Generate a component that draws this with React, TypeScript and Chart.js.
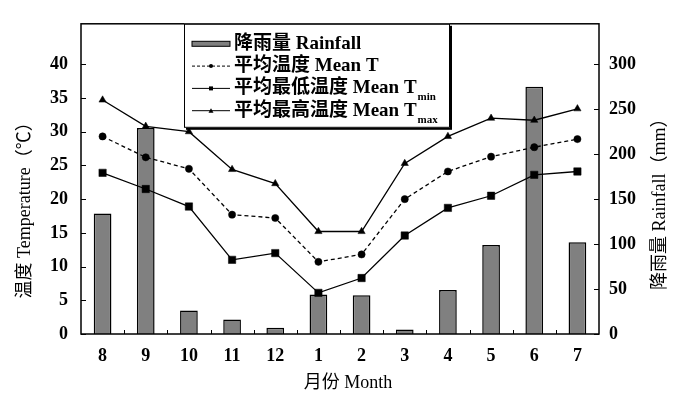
import { useEffect, useRef } from "react";
import { Chart, registerables } from "chart.js";

Chart.register(...registerables);

const months = ["8", "9", "10", "11", "12", "1", "2", "3", "4", "5", "6", "7"];
const rainfall = [134, 229, 26, 16, 7, 44, 43, 5, 49, 99, 275, 102];
const meanT = [29.3, 26.2, 24.5, 17.7, 17.2, 10.7, 11.8, 20.0, 24.1, 26.3, 27.7, 28.9];
const minT = [23.9, 21.5, 18.9, 11.0, 12.0, 6.1, 8.3, 14.6, 18.7, 20.5, 23.6, 24.1];
const maxT = [34.7, 30.8, 30.0, 24.4, 22.3, 15.2, 15.2, 25.3, 29.3, 32.0, 31.7, 33.4];
const tempTicks = [0, 5, 10, 15, 20, 25, 30, 35, 40];
const rainTicks = [0, 50, 100, 150, 200, 250, 300];

const legendLabels = ["降雨量 Rainfall", "平均温度 Mean T", "平均最低温度 Mean T", "平均最高温度 Mean T"];
const legendSubs = ["", "", "min", "max"];
const leftTitle = "温度 Temperature（℃）";
const rightTitle = "降雨量 Rainfall（mm）";
const bottomTitle = "月份 Month";

const SERIF = '"Liberation Serif", "Noto Sans CJK SC", serif';
const BAR_FILL = "#808080";

const decorPlugin = {
  id: "decor",
  afterDraw(chart: any) {
    const ctx: CanvasRenderingContext2D = chart.ctx;
    const { left, right, top, bottom } = chart.chartArea;
    const xs = chart.scales.x;
    const yl = chart.scales.y;
    const yr = chart.scales.y1;
    ctx.save();
    // frame
    ctx.strokeStyle = "#000";
    ctx.lineWidth = 1.5;
    ctx.strokeRect(left, top, right - left, bottom - top);
    // inward ticks
    ctx.lineWidth = 1;
    ctx.beginPath();
    yl.ticks.forEach((t: any) => {
      const py = Math.round(yl.getPixelForValue(t.value)) + 0.5;
      ctx.moveTo(left, py);
      ctx.lineTo(left + 5, py);
    });
    yr.ticks.forEach((t: any) => {
      const py = Math.round(yr.getPixelForValue(t.value)) + 0.5;
      ctx.moveTo(right, py);
      ctx.lineTo(right - 5, py);
    });
    for (let i = 1; i < months.length; i++) {
      const px = Math.round((xs.getPixelForValue(i - 1) + xs.getPixelForValue(i)) / 2) + 0.5;
      ctx.moveTo(px, bottom);
      ctx.lineTo(px, bottom - 4);
    }
    ctx.stroke();

    // axis titles
    ctx.fillStyle = "#000";
    ctx.font = `18px ${SERIF}`;
    ctx.textAlign = "center";
    ctx.textBaseline = "middle";
    ctx.save();
    ctx.translate(25, top + 182);
    ctx.rotate(-Math.PI / 2);
    ctx.fillText(leftTitle, 0, 0);
    ctx.restore();
    ctx.save();
    ctx.translate(right + 61, top + 176);
    ctx.rotate(-Math.PI / 2);
    ctx.fillText(rightTitle, 0, 0);
    ctx.restore();
    ctx.fillText(bottomTitle, (left + right) / 2 + 8, bottom + 49);

    // legend box
    const bx = left + 103;
    const by = top;
    const bw = 266;
    const bh = 104;
    ctx.fillStyle = "#000";
    ctx.fillRect(bx + 2, by + 2, bw, bh);
    ctx.fillStyle = "#fff";
    ctx.fillRect(bx, by, bw, bh);
    ctx.lineWidth = 1;
    ctx.strokeStyle = "#000";
    ctx.strokeRect(bx + 0.5, by + 0.5, bw - 1, bh - 1);

    const sx0 = bx + 8;
    const sx1 = bx + 46;
    const smid = (sx0 + sx1) / 2;
    const tx = bx + 50;
    legendLabels.forEach((label, i) => {
      const cy = by + 20 + i * 22.3;
      ctx.strokeStyle = "#000";
      ctx.fillStyle = "#000";
      if (i === 0) {
        ctx.fillStyle = BAR_FILL;
        ctx.fillRect(sx0, cy - 2.5, sx1 - sx0, 5);
        ctx.lineWidth = 1;
        ctx.strokeRect(sx0, cy - 2.5, sx1 - sx0, 5);
      } else {
        ctx.lineWidth = 1;
        ctx.setLineDash(i === 1 ? [3, 2] : []);
        ctx.beginPath();
        ctx.moveTo(sx0, cy);
        ctx.lineTo(sx1, cy);
        ctx.stroke();
        ctx.setLineDash([]);
        ctx.beginPath();
        if (i === 1) {
          ctx.arc(smid, cy, 2, 0, Math.PI * 2);
        } else if (i === 2) {
          ctx.rect(smid - 2, cy - 2, 4, 4);
        } else {
          ctx.moveTo(smid, cy - 2.5);
          ctx.lineTo(smid + 2.5, cy + 2);
          ctx.lineTo(smid - 2.5, cy + 2);
          ctx.closePath();
        }
        ctx.fill();
      }
      ctx.fillStyle = "#000";
      ctx.font = `bold 19px ${SERIF}`;
      ctx.textAlign = "left";
      ctx.textBaseline = "middle";
      ctx.fillText(label, tx, cy);
      if (legendSubs[i]) {
        const w = ctx.measureText(label).width;
        ctx.font = `bold 11px ${SERIF}`;
        ctx.textBaseline = "alphabetic";
        ctx.fillText(legendSubs[i], tx + w + 1, cy + 12);
      }
    });
    ctx.restore();
  },
};

export default function App() {
  const ref = useRef<HTMLCanvasElement | null>(null);

  useEffect(() => {
    document.body.style.margin = "0";
    const canvas = ref.current;
    if (!canvas) return;
    const tickFont = { family: '"Liberation Serif", serif', size: 18, weight: "bold" as const };
    const chart = new Chart(canvas, {
      type: "bar",
      data: {
        labels: months,
        datasets: [
          {
            type: "line",
            label: "平均温度 Mean T",
            data: meanT,
            yAxisID: "y",
            borderColor: "#000",
            borderWidth: 1.3,
            borderDash: [4, 3],
            pointStyle: "circle",
            pointRadius: 3.6,
            pointBackgroundColor: "#000",
            pointBorderColor: "#000",
            pointBorderWidth: 0.5,
            tension: 0,
            order: 1,
          },
          {
            type: "line",
            label: "平均最低温度 Mean Tmin",
            data: minT,
            yAxisID: "y",
            borderColor: "#000",
            borderWidth: 1.3,
            pointStyle: "rect",
            pointRadius: 5.2,
            pointBackgroundColor: "#000",
            pointBorderColor: "#000",
            pointBorderWidth: 0.5,
            tension: 0,
            order: 1,
          },
          {
            type: "line",
            label: "平均最高温度 Mean Tmax",
            data: maxT,
            yAxisID: "y",
            borderColor: "#000",
            borderWidth: 1.3,
            pointStyle: "triangle",
            pointRadius: 4.2,
            pointBackgroundColor: "#000",
            pointBorderColor: "#000",
            pointBorderWidth: 0.5,
            tension: 0,
            order: 1,
          },
          {
            type: "bar",
            label: "降雨量 Rainfall",
            data: rainfall,
            yAxisID: "y1",
            backgroundColor: BAR_FILL,
            borderColor: "#000",
            borderWidth: 1.5,
            barPercentage: 0.41,
            categoryPercentage: 1,
            order: 2,
          },
        ],
      },
      options: {
        responsive: false,
        animation: false,
        layout: { padding: { top: 13, left: 0, right: 0, bottom: 0 } },
        plugins: { legend: { display: false }, tooltip: { enabled: false } },
        scales: {
          x: {
            offset: true,
            grid: { display: false, drawTicks: false },
            border: { display: false },
            ticks: { padding: 12, font: tickFont, color: "#000", maxRotation: 0, autoSkip: false },
            afterFit: (s: any) => {
              s.height = 60;
            },
          },
          y: {
            position: "left",
            min: 0,
            max: 46,
            grid: { display: false, drawTicks: false },
            border: { display: false },
            ticks: { padding: 13, font: tickFont, color: "#000" },
            afterBuildTicks: (s: any) => {
              s.ticks = tempTicks.map((v) => ({ value: v }));
            },
            afterFit: (s: any) => {
              s.width = 81;
            },
          },
          y1: {
            position: "right",
            min: 0,
            max: 345,
            grid: { display: false, drawTicks: false },
            border: { display: false },
            ticks: { padding: 10, font: tickFont, color: "#000" },
            afterBuildTicks: (s: any) => {
              s.ticks = rainTicks.map((v) => ({ value: v }));
            },
            afterFit: (s: any) => {
              s.width = 83;
            },
          },
        },
      },
      plugins: [decorPlugin],
    } as any);
    return () => chart.destroy();
  }, []);

  return (
    <div style={{ width: 682, height: 394, background: "#fff" }}>
      <canvas ref={ref} width={682} height={394} style={{ display: "block", width: 682, height: 394 }} />
    </div>
  );
}
